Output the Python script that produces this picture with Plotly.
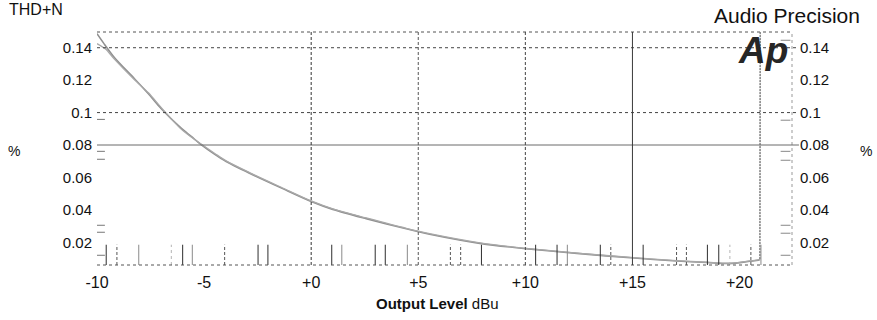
import plotly.graph_objects as go

# THD+N (%) versus output level (dBu), two measured channels
level_a = [-10, -9.7, -9.19, -8.26, -7.6, -7.01, -6.07, -5.6, -5.14, -4.5, -3.97, -2.88,
           -1.33, 0, 1.01, 2.57, 4.44, 5.53, 7.95, 10.01, 12.54, 15.07, 17.06, 18.5, 19.55,
           20.48, 20.87, 20.95, 20.97]
thdn_a = [0.1487, 0.1430, 0.1340, 0.1210, 0.1116, 0.1025, 0.0904, 0.0853, 0.0802, 0.0742,
          0.0698, 0.0626, 0.0531, 0.0452, 0.0403, 0.0346, 0.0283, 0.0250, 0.0192, 0.0161,
          0.0130, 0.0103, 0.0085, 0.0075, 0.0069, 0.0083, 0.0089, 0.0095, 0.1600]

level_b = [-10, -9.6, -9.19, -8.26, -7.6, -7.01, -6.07, -5.6, -5.14, -4.5, -3.97, -2.88,
           -1.33, 0, 1.01, 2.57, 4.44, 5.53, 7.95, 10.01, 12.54, 15.07, 17.06, 18.5, 19.55,
           20.48, 20.87, 20.95, 20.97]
thdn_b = [0.1425, 0.1392, 0.1330, 0.1204, 0.1122, 0.1032, 0.0898, 0.0850, 0.0806, 0.0748,
          0.0702, 0.0630, 0.0535, 0.0455, 0.0406, 0.0350, 0.0286, 0.0253, 0.0195, 0.0163,
          0.0132, 0.0105, 0.0087, 0.0077, 0.0071, 0.0085, 0.0091, 0.0097, 0.1600]

# sweep step markers along the bottom edge, grouped by stroke style
steps_dark = [-9.57, -6.0, -2.48, -2.02, 0.96, 2.99, 3.46, 7.95, 10.48, 11.48, 13.5,
              15.5, 18.5, 19.03]
steps_gray = [-8.05, -5.55, 1.43, 4.49, 11.96, 21.0]
steps_dash = [-9.07, -4.04, 6.50, 6.98, 13.99, 17.06, 17.52, 20.53]
steps_dot = [-6.53, 19.55]
step_height = 0.0185

# short level marks next to the left and right axes
left_marks = [0.0958, 0.0761, 0.0712, 0.0305, 0.0262, 0.0120]
right_marks = [0.1446, 0.0953, 0.0761, 0.0706, 0.0305, 0.0256, 0.0120]

x_ticks = [-10, -5, 0, 5, 10, 15, 20]
x_labels = ["-10", "-5", "+0", "+5", "+10", "+15", "+20"]
y_ticks = [0.02, 0.04, 0.06, 0.08, 0.10, 0.12, 0.14]
y_labels = ["0.02", "0.04", "0.06", "0.08", "0.1", "0.12", "0.14"]

x_range = [-10, 22.45]
y_range = [0.006, 0.1497]

FONT = "Liberation Sans, Arial, sans-serif"
INK = "#111111"


def segments(xs, top):
    px, py = [], []
    for x in xs:
        px += [x, x, None]
        py += [y_range[0], top, None]
    return px, py


fig = go.Figure()

# each channel: smooth sweep, then the steep rise at clipping
for lv, th, color, width in [(level_a, thdn_a, "#8f8f8f", 1.6),
                             (level_b, thdn_b, "#a8a8a8", 1.3)]:
    fig.add_trace(go.Scatter(x=lv[:-1], y=th[:-1], mode="lines",
                             line=dict(color=color, width=width, shape="spline",
                                       smoothing=0.8),
                             showlegend=False))
    fig.add_trace(go.Scatter(x=lv[-2:], y=th[-2:], mode="lines",
                             line=dict(color="#8a8a8a", width=1.2, dash="2px,1px"),
                             showlegend=False))

for xs, color, dash in [(steps_dark, "#2e2e2e", "solid"), (steps_gray, "#8a8a8a", "solid"),
                        (steps_dash, "#555555", "3px,2px"), (steps_dot, "#b5b5b5", "dot")]:
    sx, sy = segments(xs, step_height)
    fig.add_trace(go.Scatter(x=sx, y=sy, mode="lines",
                             line=dict(color=color, width=1, dash=dash),
                             showlegend=False, hoverinfo="skip"))

fig.add_trace(go.Scatter(x=[-9.86] * len(left_marks), y=left_marks, mode="markers",
                         marker=dict(symbol="line-ew", size=7,
                                     line=dict(color="#777777", width=1)),
                         showlegend=False, hoverinfo="skip"))
fig.add_trace(go.Scatter(x=[22.15] * len(right_marks), y=right_marks, mode="markers",
                         marker=dict(symbol="line-ew", size=7,
                                     line=dict(color="#888888", width=1)),
                         showlegend=False, hoverinfo="skip"))

# invisible trace to activate the right-hand axis
fig.add_trace(go.Scatter(x=[None], y=[None], yaxis="y2", showlegend=False))

shapes = []
# dotted frame top and bottom, right edge
for yy in (0, 1):
    shapes.append(dict(type="line", xref="paper", yref="paper", x0=0, x1=1, y0=yy, y1=yy,
                       line=dict(color="#555555", width=1, dash="dot")))
shapes.append(dict(type="line", xref="paper", yref="paper", x0=1, x1=1, y0=0, y1=1,
                   line=dict(color="#999999", width=1, dash="dot")))
# horizontal reference lines
for yv, dash, color in [(0.14, "dot", "#444444"), (0.10, "dot", "#444444"),
                        (0.08, "solid", "#6a6a6a")]:
    shapes.append(dict(type="line", xref="paper", yref="y", x0=0, x1=1.01, y0=yv, y1=yv,
                       line=dict(color=color, width=1, dash=dash)))
# vertical reference lines
for xv, dash, color in [(0, "3px,2px", "#333333"), (5, "3px,2px", "#555555"),
                        (10, "3px,2px", "#444444"), (15, "solid", "#3a3a3a")]:
    shapes.append(dict(type="line", xref="x", yref="paper", x0=xv, x1=xv, y0=0, y1=1,
                       line=dict(color=color, width=1, dash=dash)))

axis_common = dict(range=y_range, tickvals=y_ticks, ticktext=y_labels, showgrid=False,
                   zeroline=False, showline=False, ticks="",
                   tickfont=dict(family=FONT, size=15, color=INK))

fig.update_layout(
    width=877, height=320,
    margin=dict(l=97, r=85, t=32, b=55),
    paper_bgcolor="white", plot_bgcolor="white",
    xaxis=dict(range=x_range, tickvals=x_ticks, ticktext=x_labels, showgrid=False,
               zeroline=False, showline=False, ticks="", ticklabelstandoff=6,
               tickfont=dict(family=FONT, size=16, color=INK)),
    yaxis=dict(**axis_common, ticklabelstandoff=4),
    yaxis2=dict(**axis_common, overlaying="y", side="right", ticklabelstandoff=7),
    shapes=shapes,
    annotations=[
        dict(text="THD+N", xref="paper", yref="paper", x=-0.13, y=1.095, xanchor="left",
             yanchor="middle", showarrow=False, font=dict(family=FONT, size=16, color=INK)),
        dict(text="Audio Precision", xref="paper", yref="paper", x=1.1, y=1.07,
             xanchor="right", yanchor="middle", showarrow=False,
             font=dict(family=FONT, size=21, color=INK)),
        dict(text="<b><i>Ap</i></b>", xref="paper", yref="paper", x=0.958, y=0.922,
             xanchor="center", yanchor="middle", showarrow=False,
             font=dict(family=FONT, size=37, color="#262626")),
        dict(text="%", xref="paper", yref="paper", x=-0.12, y=0.49, xanchor="center",
             yanchor="middle", showarrow=False, font=dict(family=FONT, size=14, color=INK)),
        dict(text="%", xref="paper", yref="paper", x=1.107, y=0.49, xanchor="center",
             yanchor="middle", showarrow=False, font=dict(family=FONT, size=14, color=INK)),
        dict(text="<b>Output Level</b> dBu", xref="paper", yref="paper", x=0.49, y=-0.165,
             xanchor="center", yanchor="middle", showarrow=False,
             font=dict(family=FONT, size=15, color=INK)),
    ],
)

fig.write_html("out.html")
